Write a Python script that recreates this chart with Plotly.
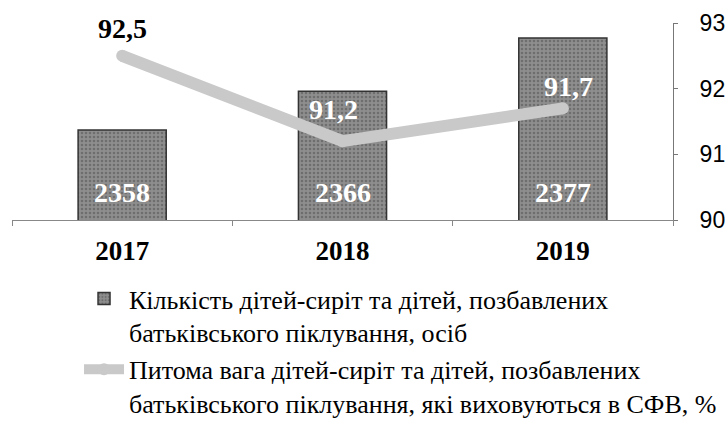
import plotly.graph_objects as go

# Data
years = ["2017", "2018", "2019"]
children_count = [2358, 2366, 2377]
family_share = [92.5, 91.2, 91.7]

bar_name = "Кількість дітей-сиріт та дітей, позбавлених<br>батьківського піклування, осіб"
line_name = ("Питома вага дітей-сиріт та дітей, позбавлених<br>"
             "батьківського піклування, які виховуються в СФВ, %")

share_ticks = [90, 91, 92, 93]
count_range = [2339.4, 2380.1]

SERIF = "Liberation Serif"
SANS = "Liberation Sans"

fig = go.Figure()

fig.add_trace(go.Bar(
    x=years, y=children_count, name=bar_name, yaxis="y",
    marker=dict(
        color="#828282",
        line=dict(color="#333333", width=1.5),
        pattern=dict(shape=".", fgcolor="#4e4e4e", bgcolor="#8e8e8e",
                     size=4, solidity=0.35),
    ),
    width=0.4, legendgroup="a",
))

fig.add_trace(go.Scatter(
    x=years, y=family_share, name=line_name, yaxis="y2",
    mode="lines+markers",
    line=dict(color="#c9c9c9", width=12),
    marker=dict(color="#c9c9c9", size=12),
    legendgroup="b",
))

# value labels for the share line (category index used for x)
share_colors = ["black", "white", "white"]
share_shift = [(0, 27), (-9, 32), (6, 22)]
for i, (v, c, (dx, dy)) in enumerate(zip(family_share, share_colors, share_shift)):
    fig.add_annotation(
        x=i, y=v, xref="x", yref="y2", text=f"{v:.1f}".replace(".", ","),
        showarrow=False, xshift=dx, yshift=dy,
        font=dict(family=SERIF, size=28, color=c, weight="bold"),
    )

# value labels inside the bars, near their base
for i, v in enumerate(children_count):
    fig.add_annotation(
        x=i, y=count_range[0], xref="x", yref="y", text=str(v),
        showarrow=False, yanchor="middle", yshift=28,
        font=dict(family=SERIF, size=28, color="white", weight="bold"),
    )

fig.update_layout(
    width=728, height=421,
    margin=dict(l=12, r=55, t=23, b=201, autoexpand=False),
    paper_bgcolor="white", plot_bgcolor="white",
    showlegend=True,
    bargap=0.6,
    xaxis=dict(
        type="category", range=[-0.5, 2.5],
        showline=True, linecolor="#888888", linewidth=1,
        ticks="outside", tickson="boundaries", ticklen=5, tickcolor="#888888",
        showgrid=False, ticklabelstandoff=7,
        tickfont=dict(family=SERIF, size=27, color="black", weight="bold"),
    ),
    yaxis=dict(
        range=count_range, visible=False, showgrid=False,
    ),
    yaxis2=dict(
        overlaying="y", side="right", range=[90, 93],
        tickvals=share_ticks, showline=True, linecolor="#777777", linewidth=1,
        ticks="outside", ticklen=4, tickcolor="#777777", showgrid=False,
        zeroline=False, ticklabelstandoff=17,
        tickfont=dict(family=SANS, size=23, color="black"),
    ),
    legend=dict(
        x=0.1014, y=-0.28, xanchor="left", yanchor="top",
        font=dict(family=SERIF, size=26, color="black"),
        valign="top", tracegroupgap=0, itemwidth=40,
        bgcolor="rgba(0,0,0,0)",
    ),
)

fig.write_html("out.html")
